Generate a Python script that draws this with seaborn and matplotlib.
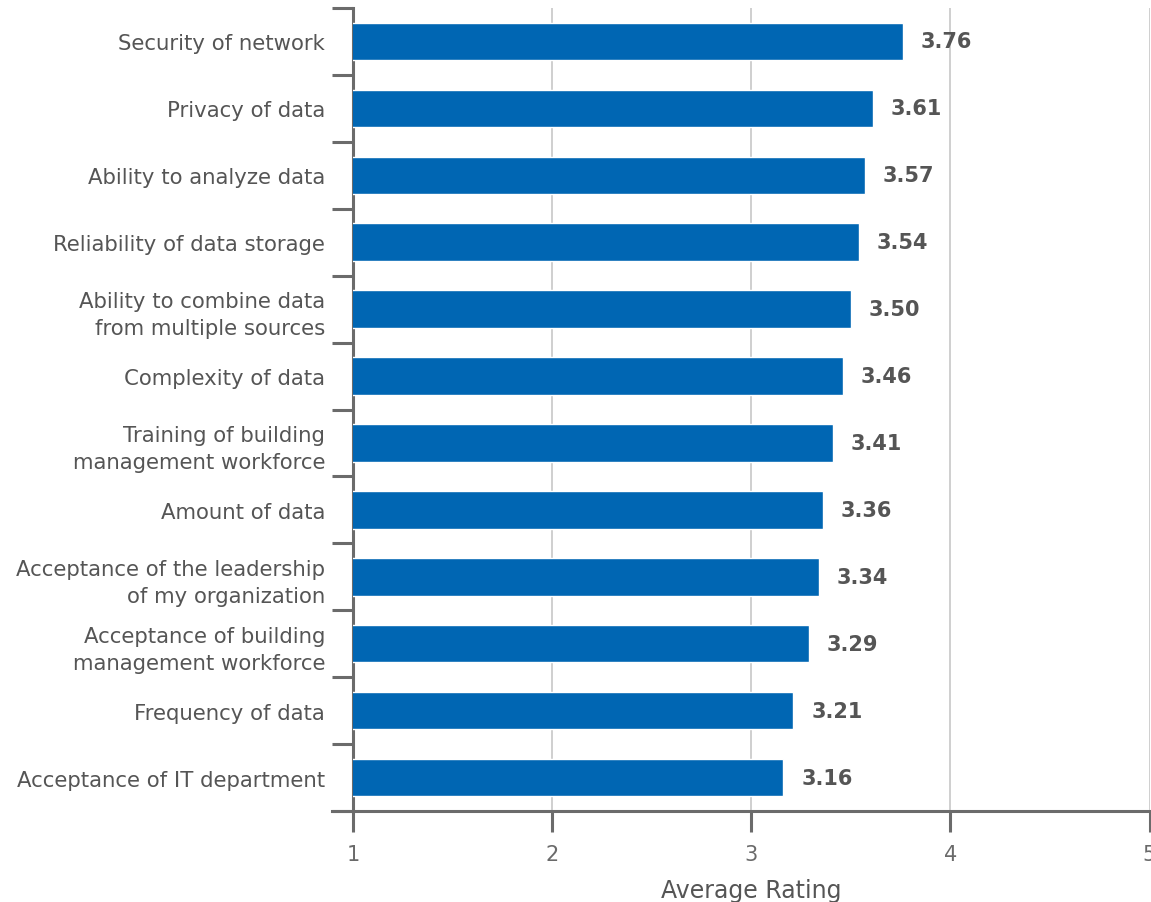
import pandas as pd
import matplotlib.pyplot as plt
import seaborn as sns
from matplotlib.ticker import FixedLocator

# data
categories = [
    "Security of network",
    "Privacy of data",
    "Ability to analyze data",
    "Reliability of data storage",
    "Ability to combine data\nfrom multiple sources",
    "Complexity of data",
    "Training of building\nmanagement workforce",
    "Amount of data",
    "Acceptance of the leadership\nof my organization",
    "Acceptance of building\nmanagement workforce",
    "Frequency of data",
    "Acceptance of IT department",
]
ratings = [3.76, 3.61, 3.57, 3.54, 3.50, 3.46, 3.41, 3.36, 3.34, 3.29, 3.21, 3.16]
x_ticks = [1, 2, 3, 4, 5]

df = pd.DataFrame({"Category": categories, "Rating": ratings})

sns.set_style("white")
plt.rcParams["font.family"] = ["DejaVu Sans"]

grey = "#6b6b6b"
text_grey = "#555555"

fig = plt.figure(figsize=(11.51, 9.03), dpi=100)
ax = fig.add_axes([353 / 1151, 1 - 812 / 903, (1149.5 - 353) / 1151, (812 - 9) / 903])

sns.barplot(data=df, x="Rating", y="Category", orient="h", color="#0066b3",
            saturation=1, width=0.56, ax=ax, zorder=3)

ax.set_xlim(1, 5)
ax.set_ylim(len(categories) - 0.5, -0.5)

# value labels
for cont in ax.containers:
    ax.bar_label(cont, fmt="%.2f", padding=13, fontsize=15, fontweight="bold",
                 color=text_grey)

# grid
ax.xaxis.set_major_locator(FixedLocator(x_ticks))
ax.grid(axis="x", color="#cccccc", linewidth=1.3, zorder=0)
ax.set_axisbelow(True)

# spines
for s in ["top", "right"]:
    ax.spines[s].set_visible(False)
for s in ["left", "bottom"]:
    ax.spines[s].set_color(grey)
    ax.spines[s].set_linewidth(2.2)

# y ticks: labels at centres, marks at the boundaries
ax.yaxis.set_minor_locator(FixedLocator([i - 0.5 for i in range(len(categories) + 1)]))
ax.tick_params(axis="y", which="minor", length=15, width=2.2, color=grey, left=True)
ax.tick_params(axis="y", which="major", length=0, pad=20, labelsize=15.3,
               labelcolor=text_grey)
for lab in ax.get_yticklabels():
    lab.set_linespacing(1.45)

ax.tick_params(axis="x", which="major", length=15, width=2.2, color=grey,
               bottom=True, pad=9, labelsize=15, labelcolor="#6a6a6a")
ax.spines["bottom"].set_bounds(1 - 21 / 199, 5)
ax.spines["bottom"].set_clip_on(False)

ax.set_ylabel("")
ax.set_xlabel("Average Rating", fontsize=17, color=text_grey, labelpad=10)

fig.savefig("out.png", dpi=100)
